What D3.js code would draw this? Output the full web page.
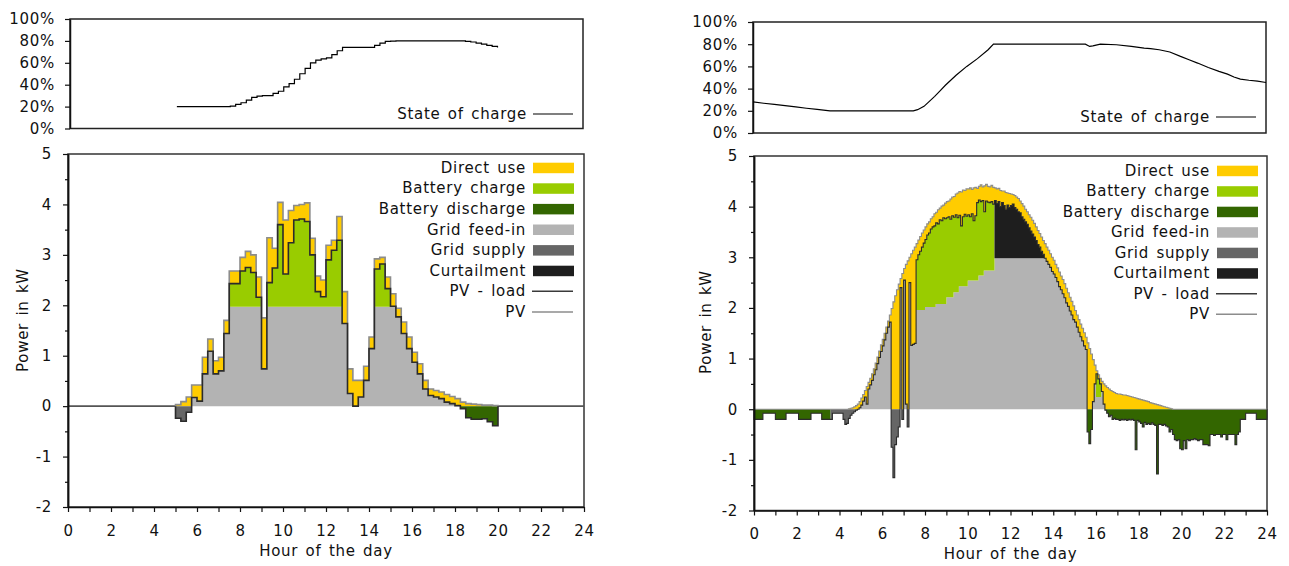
<!DOCTYPE html>
<html>
<head>
<meta charset="utf-8">
<script src="https://d3js.org/d3.v7.min.js"></script>
<style>
  body { margin: 0; background: #fff; overflow: hidden; }
  svg text { font-family: "DejaVu Sans", Verdana, sans-serif; letter-spacing: 0.7px; word-spacing: 2px; }
</style>
</head>
<body>
<svg id="chart" width="1289" height="566"></svg>
<script>
'use strict';

// ---- shared ticks / labels ----
var hourTicks = d3.range(0, 25, 1);
var powerTicks = [-2, -1, 0, 1, 2, 3, 4, 5];
var powerMinorTicks = [-1.5, -0.5, 0.5, 1.5, 2.5, 3.5, 4.5];
var socTicks = [0, 20, 40, 60, 80, 100];
var legendKeys = ['direct', 'charge', 'discharge', 'feed', 'supply', 'curtail', 'netLine', 'pvLine'];
var legendLabels = ['Direct use', 'Battery charge', 'Battery discharge', 'Grid feed-in',
                    'Grid supply', 'Curtailment', 'PV - load', 'PV'];

// ---- left day: 15 min values, 05:00 - 20:00 ----
var leftStart = 5, leftStep = 0.25;
var leftPv = [
  0.03, 0.09, 0.18, 0.42, 0.42, 0.97, 1.33, 0.9, 0.97, 1.7,
  2.68, 2.68, 2.95, 3.07, 3.0, 2.56, 1.75, 3.34, 3.13, 4.04,
  3.69, 3.88, 3.98, 4.0, 4.03, 3.33, 2.58, 2.5, 3.19, 3.29,
  3.76, 2.27, 0.74, 0.51, 0.51, 0.79, 1.37, 2.92, 2.95, 2.56,
  2.23, 1.94, 1.67, 1.37, 1.07, 0.84, 0.51, 0.34, 0.31, 0.28,
  0.23, 0.19, 0.15, 0.08, 0.05, 0.04, 0.03, 0.02, 0.02, 0.01
];
var leftNet = [
  -0.24, -0.3, -0.12, 0.17, 0.1, 0.64, 1.09, 0.64, 0.7, 1.44,
  2.43, 2.43, 2.68, 2.75, 2.65, 2.16, 0.74, 2.45, 2.74, 3.6,
  2.62, 3.24, 3.69, 3.71, 3.66, 3.0, 2.27, 2.17, 2.9, 3.09,
  3.29, 1.64, 0.25, 0.0, 0.18, 0.51, 1.14, 2.72, 2.82, 2.33,
  1.98, 1.77, 1.44, 1.14, 0.87, 0.64, 0.34, 0.21, 0.18, 0.15,
  0.08, 0.05, 0.01, -0.05, -0.23, -0.26, -0.26, -0.25, -0.31, -0.39
];
var leftSoc = [
  20, 20, 20, 20, 20, 20, 20, 20, 20, 20,
  20.5, 22, 23.5, 26, 28.5, 29.5, 30, 30, 32, 34,
  38, 41, 45, 50, 55, 60, 62.5, 63.5, 64.5, 67.5,
  71, 74, 74, 74, 74, 74, 74, 76, 78, 79.5,
  79.8, 80, 80, 80, 80, 80, 80, 80, 80, 80,
  80, 80, 80, 80, 79.5, 79, 78, 77, 76, 75,
  74
];
var leftFeedInLimit = 1.97;

// ---- right day: 5 min values, one row per hour ----
var rightStart = 0, rightStep = 1 / 12;
var rightPv = [
  0, 0, 0, 0, 0, 0, 0, 0, 0, 0, 0, 0,
  0, 0, 0, 0, 0, 0, 0, 0, 0, 0, 0, 0,
  0, 0, 0, 0, 0, 0, 0, 0, 0, 0, 0, 0,
  0, 0, 0, 0, 0, 0, 0, 0, 0, 0, 0, 0,
  0, 0, 0, 0, 0, 0.01, 0.02, 0.03, 0.05, 0.07, 0.1, 0.15,
  0.22, 0.29, 0.37, 0.45, 0.53, 0.61, 0.7, 0.8, 0.91, 1.03, 1.15, 1.27,
  1.38, 1.5, 1.62, 1.74, 1.86, 1.99, 2.12, 2.24, 2.36, 2.47, 2.58, 2.68,
  2.78, 2.86, 2.93, 3.0, 3.07, 3.14, 3.2, 3.27, 3.34, 3.41, 3.48, 3.54,
  3.6, 3.66, 3.7, 3.76, 3.8, 3.86, 3.89, 3.94, 3.97, 4.01, 4.03, 4.07,
  4.1, 4.11, 4.15, 4.19, 4.2, 4.25, 4.27, 4.3, 4.29, 4.33, 4.32, 4.35,
  4.35, 4.37, 4.34, 4.37, 4.38, 4.36, 4.4, 4.43, 4.39, 4.41, 4.44, 4.4,
  4.39, 4.42, 4.38, 4.37, 4.35, 4.36, 4.32, 4.31, 4.31, 4.28, 4.27, 4.26,
  4.25, 4.24, 4.22, 4.19, 4.16, 4.11, 4.06, 4.01, 3.95, 3.9, 3.84, 3.79,
  3.73, 3.67, 3.6, 3.53, 3.47, 3.4, 3.33, 3.27, 3.2, 3.14, 3.07, 3.0,
  2.94, 2.86, 2.79, 2.71, 2.63, 2.56, 2.48, 2.39, 2.3, 2.21, 2.13, 2.04,
  1.95, 1.86, 1.77, 1.68, 1.6, 1.51, 1.42, 1.31, 1.2, 1.09, 0.98, 0.87,
  0.76, 0.68, 0.61, 0.55, 0.5, 0.46, 0.43, 0.4, 0.37, 0.35, 0.33, 0.31,
  0.3, 0.3, 0.29, 0.28, 0.28, 0.27, 0.26, 0.25, 0.24, 0.23, 0.22, 0.21,
  0.2, 0.19, 0.18, 0.17, 0.16, 0.15, 0.13, 0.12, 0.11, 0.1, 0.09, 0.08,
  0.07, 0.06, 0.05, 0.04, 0.03, 0.02, 0.01, 0, 0, 0, 0, 0,
  0, 0, 0, 0, 0, 0, 0, 0, 0, 0, 0, 0,
  0, 0, 0, 0, 0, 0, 0, 0, 0, 0, 0, 0,
  0, 0, 0, 0, 0, 0, 0, 0, 0, 0, 0, 0,
  0, 0, 0, 0, 0, 0, 0, 0, 0, 0, 0, 0
];
var rightNet = [
  -0.2, -0.2, -0.2, -0.2, -0.2, -0.08, -0.08, -0.08, -0.08, -0.08, -0.08, -0.08,
  -0.2, -0.2, -0.2, -0.2, -0.2, -0.2, -0.08, -0.08, -0.08, -0.08, -0.08, -0.08,
  -0.08, -0.2, -0.2, -0.2, -0.2, -0.2, -0.2, -0.2, -0.08, -0.08, -0.08, -0.08,
  -0.08, -0.08, -0.2, -0.2, -0.2, -0.2, -0.2, -0.2, -0.08, -0.08, -0.08, -0.08,
  -0.08, -0.08, -0.2, -0.3, -0.28, -0.18, -0.12, -0.08, -0.05, -0.02, 0.0, 0.03,
  0.08, 0.16, 0.24, 0.1, 0.4, 0.48, 0.57, 0.68, 0.78, 0.9, 1.02, 1.14,
  1.25, 1.37, 1.5, 1.62, 1.72, -0.75, -1.35, -0.7, -0.55, -0.35, 2.4, -0.2,
  2.55, 0.1, -0.35, 2.5, 1.26, 1.28, 1.3, 2.95, 3.05, 3.12, 3.2, 3.28,
  3.35, 3.44, 3.48, 3.56, 3.6, 3.62, 3.68, 3.66, 3.74, 3.72, 3.78, 3.76,
  3.78, 3.8, 3.75, 3.82, 3.79, 3.84, 3.78, 3.83, 3.62, 3.8, 3.85, 3.81,
  3.84, 3.8, 3.86, 3.72, 3.82, 4.08, 4.13, 4.1, 4.12, 3.9, 4.11, 4.09,
  4.08, 4.1, 4.05, 4.12, 4.06, 4.1, 4.0, 4.08, 4.02, 3.95, 4.03, 3.98,
  4.02, 4.05, 3.98, 3.95, 3.9, 3.88, 3.8, 3.75, 3.7, 3.65, 3.58, 3.52,
  3.46, 3.4, 3.33, 3.25, 3.2, 3.12, 3.06, 2.98, 2.92, 2.86, 2.8, 2.72,
  2.67, 2.6, 2.52, 2.42, 2.36, 2.28, 2.2, 2.1, 2.03, 1.94, 1.86, 1.77,
  1.72, 1.62, 1.52, 1.43, 1.35, 1.25, 1.18, -0.45, -0.68, -0.4, 0.15, 0.5,
  0.7, 0.6, 0.5, 0.35, 0.1, -0.02, -0.08, -0.15, -0.12, -0.2, -0.18, -0.2,
  -0.2, -0.22, -0.2, -0.21, -0.2, -0.22, -0.2, -0.21, -0.2, -0.22, -0.8, -0.22,
  -0.25, -0.28, -0.35, -0.26, -0.3, -0.28, -0.3, -0.27, -0.3, -0.32, -1.28, -0.3,
  -0.3, -0.32, -0.3, -0.33, -0.35, -0.45, -0.4, -0.5, -0.6, -0.62, -0.6, -0.78,
  -0.8, -0.62, -0.78, -0.6, -0.62, -0.6, -0.6, -0.58, -0.6, -0.62, -0.6, -0.6,
  -0.7, -0.7, -0.7, -0.72, -0.5, -0.5, -0.52, -0.5, -0.5, -0.5, -0.55, -0.5,
  -0.5, -0.6, -0.5, -0.5, -0.5, -0.5, -0.7, -0.5, -0.45, -0.2, -0.2, -0.2,
  -0.08, -0.08, -0.08, -0.08, -0.08, -0.08, -0.2, -0.2, -0.2, -0.2, -0.2, -0.2
];
var rightSocHours = [0, 0.5, 1, 1.5, 2, 2.5, 3, 3.6, 7.5, 7.7, 8, 8.25, 8.5, 8.75, 9, 9.5, 10, 10.5,
                     11, 11.25, 15.55, 15.75, 15.9, 16.25, 17, 17.7, 18.3, 18.6, 19, 19.5, 20,
                     20.4, 20.8, 21.3, 21.8, 22.2, 22.5, 22.8, 23.2, 23.6, 24];
var rightSocValues = [28, 26.8, 25.8, 24.6, 23.5, 22.3, 21.3, 20, 20, 21, 24, 28.5, 33, 38, 43, 52, 60, 67,
                      75, 80, 80, 78, 78.5, 80, 79.5, 78, 76.5, 76, 75, 73, 69,
                      66, 63, 59, 55.5, 53, 50.5, 48.5, 47.5, 46.7, 45.5];
// feed-in limit (kW) from each hour on; null = no limit
var rightLimitHours = [0, 7.58, 8.0, 8.42, 9.0, 9.33, 9.58, 10.0, 10.42, 10.75, 11.25, 16.0, 16.25];
var rightLimitValues = [null, 1.96, 2.02, 2.08, 2.21, 2.31, 2.43, 2.54, 2.64, 2.74, 2.98, 0.24, null];

// ---- styling ----
var colors = {
  direct: '#ffcc00', charge: '#99cc00', discharge: '#336600', feed: '#b3b3b3',
  supply: '#666666', curtail: '#1e1e1e', netLine: '#2b2b2b', pvLine: '#8c8c8c'
};
var svg = d3.select('#chart');

// split every interval into the stacked flows
function flows(start, step, pv, net, limitAt, socAt) {
  return pv.map(function(p, i) {
    var t = start + i * step, n = net[i];
    var cap = limitAt(t), s = socAt(i, t + step / 2);
    var r = {t: t, pv: p, net: n, feed: 0, charge: 0, curtail: 0, discharge: 0, supply: 0};
    if (n >= 0) {
      r.feed = cap == null ? n : Math.min(n, cap);
      if (s >= 79.9) r.curtail = n - r.feed; else r.charge = n - r.feed;
    } else if (s <= 20.05) {
      r.supply = n;
    } else {
      r.discharge = n;
    }
    return r;
  });
}

var layerDefs = [
  {key: 'feed', lo: function(d) { return 0; }, hi: function(d) { return d.feed; }},
  {key: 'charge', lo: function(d) { return d.feed; }, hi: function(d) { return d.feed + d.charge; }},
  {key: 'curtail', lo: function(d) { return d.feed; }, hi: function(d) { return d.feed + d.curtail; }},
  {key: 'direct', lo: function(d) { return Math.max(d.net, 0); }, hi: function(d) { return d.pv; }},
  {key: 'discharge', lo: function(d) { return 0; }, hi: function(d) { return d.discharge; }},
  {key: 'supply', lo: function(d) { return 0; }, hi: function(d) { return d.supply; }}
];

function styleAxis(g) {
  g.attr('font-size', 15).attr('font-family', null);
  g.selectAll('text').attr('fill', '#111');
  g.select('.domain').attr('stroke', '#111').attr('stroke-width', 1.5);
  g.selectAll('.tick line').attr('stroke', '#111').attr('stroke-width', 1.2);
}

function drawDay(cfg) {
  var top = cfg.top, bot = cfg.bottom;

  // ---------- state of charge panel ----------
  var xTop = d3.scaleLinear().domain([0, 24]).range([top.x0, top.x1]);
  var ySoc = d3.scaleLinear().domain([0, 100]).range([top.y1, top.y0]);

  svg.append('rect')
    .attr('x', top.x0).attr('y', top.y0)
    .attr('width', top.x1 - top.x0).attr('height', top.y1 - top.y0)
    .attr('fill', 'none').attr('stroke', '#222').attr('stroke-width', 1.5);

  svg.append('g')
    .attr('transform', 'translate(' + top.x0 + ',0)')
    .call(d3.axisLeft(ySoc).tickValues(socTicks).tickSize(5).tickSizeOuter(0).tickPadding(10)
      .tickFormat(function(d) { return d + '%'; }))
    .call(styleAxis);

  svg.append('path')
    .datum(cfg.soc)
    .attr('fill', 'none').attr('stroke', '#000').attr('stroke-width', 1.2)
    .attr('d', d3.line().curve(cfg.socCurve)
      .x(function(d) { return xTop(d.t); })
      .y(function(d) { return ySoc(d.v); }));

  svg.append('text')
    .attr('x', cfg.socLegend.x).attr('y', cfg.socLegend.y + 5)
    .attr('text-anchor', 'end').attr('font-size', 15).attr('fill', '#111')
    .text('State of charge');
  svg.append('line')
    .attr('x1', cfg.socLegend.x + 6).attr('x2', cfg.socLegend.x + 46)
    .attr('y1', cfg.socLegend.y).attr('y2', cfg.socLegend.y)
    .attr('stroke', '#000').attr('stroke-width', 1.2);

  // ---------- power panel ----------
  var x = d3.scaleLinear().domain([0, 24]).range([bot.x0, bot.x1]);
  var y = d3.scaleLinear().domain([-2, 5]).range([bot.y1, bot.y0]);

  svg.append('rect')
    .attr('x', bot.x0).attr('y', bot.y0)
    .attr('width', bot.x1 - bot.x0).attr('height', bot.y1 - bot.y0)
    .attr('fill', 'none').attr('stroke', '#333').attr('stroke-width', 1.5);

  // zero line where there is no measured day
  [[0, cfg.start], [cfg.end, 24]].forEach(function(seg) {
    if (seg[1] <= seg[0]) return;
    svg.append('line')
      .attr('x1', x(seg[0])).attr('x2', x(seg[1]))
      .attr('y1', y(0)).attr('y2', y(0))
      .attr('stroke', '#555').attr('stroke-width', 1.6);
  });

  var rows = cfg.rows;
  var last = rows[rows.length - 1];
  var areaRows = rows.concat([Object.assign({}, last, {t: cfg.end})]);

  layerDefs.forEach(function(l) {
    svg.append('path')
      .datum(areaRows)
      .attr('fill', colors[l.key])
      .attr('d', d3.area().curve(d3.curveStepAfter)
        .x(function(d) { return x(d.t); })
        .y0(function(d) { return y(l.lo(d)); })
        .y1(function(d) { return y(l.hi(d)); }));
  });

  function lineRows(field) {
    return [{t: cfg.start, v: 0}]
      .concat(rows.map(function(d) { return {t: d.t, v: d[field]}; }))
      .concat([{t: cfg.end, v: 0}]);
  }
  var stepLine = d3.line().curve(d3.curveStepAfter)
    .x(function(d) { return x(d.t); })
    .y(function(d) { return y(d.v); });

  svg.append('path').datum(lineRows('pv'))
    .attr('fill', 'none').attr('stroke', colors.pvLine).attr('stroke-width', cfg.lineWidth)
    .attr('d', stepLine);
  svg.append('path').datum(lineRows('net'))
    .attr('fill', 'none').attr('stroke', colors.netLine).attr('stroke-width', cfg.lineWidth)
    .attr('d', stepLine);

  // axes
  svg.append('g')
    .attr('transform', 'translate(' + bot.x0 + ',0)')
    .call(d3.axisLeft(y).tickValues(powerMinorTicks).tickSize(3).tickSizeOuter(0)
      .tickFormat(function() { return ''; }))
    .call(styleAxis);
  svg.append('g')
    .attr('transform', 'translate(' + bot.x0 + ',0)')
    .call(d3.axisLeft(y).tickValues(powerTicks).tickSize(5).tickSizeOuter(0).tickPadding(11)
      .tickFormat(function(d) { return String(d); }))
    .call(styleAxis);
  svg.append('g')
    .attr('transform', 'translate(0,' + bot.y1 + ')')
    .call(d3.axisBottom(x).tickValues(hourTicks).tickSize(5).tickSizeOuter(0).tickPadding(cfg.xPad)
      .tickFormat(function(d) { return d % 2 ? '' : String(d); }))
    .call(styleAxis);

  svg.append('text')
    .attr('x', (bot.x0 + bot.x1) / 2).attr('y', cfg.xTitleY)
    .attr('text-anchor', 'middle').attr('font-size', 15).attr('fill', '#111')
    .text('Hour of the day');
  svg.append('text')
    .attr('transform', 'translate(' + cfg.yTitleX + ',' + cfg.yTitleY + ') rotate(-90)')
    .attr('text-anchor', 'middle').attr('font-size', 15).attr('fill', '#111')
    .text('Power in kW');

  // legend
  var lg = svg.append('g').selectAll('g')
    .data(legendKeys)
    .enter().append('g')
    .attr('transform', function(d, i) {
      return 'translate(' + cfg.legend.x + ',' + (cfg.legend.y + i * cfg.legend.dy) + ')';
    });
  lg.append('text')
    .attr('x', 0).attr('y', 5)
    .attr('text-anchor', 'end').attr('font-size', 15).attr('fill', '#111')
    .text(function(d, i) { return legendLabels[i]; });
  lg.filter(function(d) { return d.indexOf('Line') < 0; })
    .append('rect')
    .attr('x', 7).attr('y', -5).attr('width', 41).attr('height', 10.5)
    .attr('fill', function(d) { return colors[d]; });
  lg.filter(function(d) { return d.indexOf('Line') >= 0; })
    .append('line')
    .attr('x1', 6).attr('x2', 47).attr('y1', 0).attr('y2', 0)
    .attr('stroke', function(d) { return d === 'netLine' ? '#3a3a3a' : '#8c8c8c'; })
    .attr('stroke-width', 1.5);
}

// ---- left day ----
var leftEnd = leftStart + leftPv.length * leftStep;
drawDay({
  top: {x0: 70, x1: 583, y0: 19, y1: 128.5},
  bottom: {x0: 68, x1: 584, y0: 154, y1: 507},
  start: leftStart, end: leftEnd,
  rows: flows(leftStart, leftStep, leftPv, leftNet,
    function() { return leftFeedInLimit; },
    function(i) { return leftSoc[i]; }),
  soc: leftSoc.map(function(v, i) { return {t: leftStart + i * leftStep, v: v}; }),
  socCurve: d3.curveStepAfter,
  socLegend: {x: 527, y: 114},
  legend: {x: 526, y: 167.7, dy: 20.6},
  lineWidth: 1.6,
  xPad: 13, xTitleY: 556, yTitleX: 28, yTitleY: 320
});

// ---- right day ----
var rightEnd = rightStart + rightPv.length * rightStep;
var rightSocAt = d3.scaleLinear().domain(rightSocHours).range(rightSocValues);
drawDay({
  top: {x0: 753, x1: 1266, y0: 22, y1: 133},
  bottom: {x0: 754, x1: 1267, y0: 156, y1: 510.5},
  start: rightStart, end: rightEnd,
  rows: flows(rightStart, rightStep, rightPv, rightNet,
    function(t) { return rightLimitValues[d3.bisectRight(rightLimitHours, t + 1e-6) - 1]; },
    function(i, t) { return rightSocAt(t); }),
  soc: rightSocHours.map(function(h, i) { return {t: h, v: rightSocValues[i]}; }),
  socCurve: d3.curveLinear,
  socLegend: {x: 1210, y: 117},
  legend: {x: 1210, y: 170.7, dy: 20.5},
  lineWidth: 1.1,
  xPad: 12.5, xTitleY: 559, yTitleX: 711, yTitleY: 322
});
</script>
</body>
</html>
